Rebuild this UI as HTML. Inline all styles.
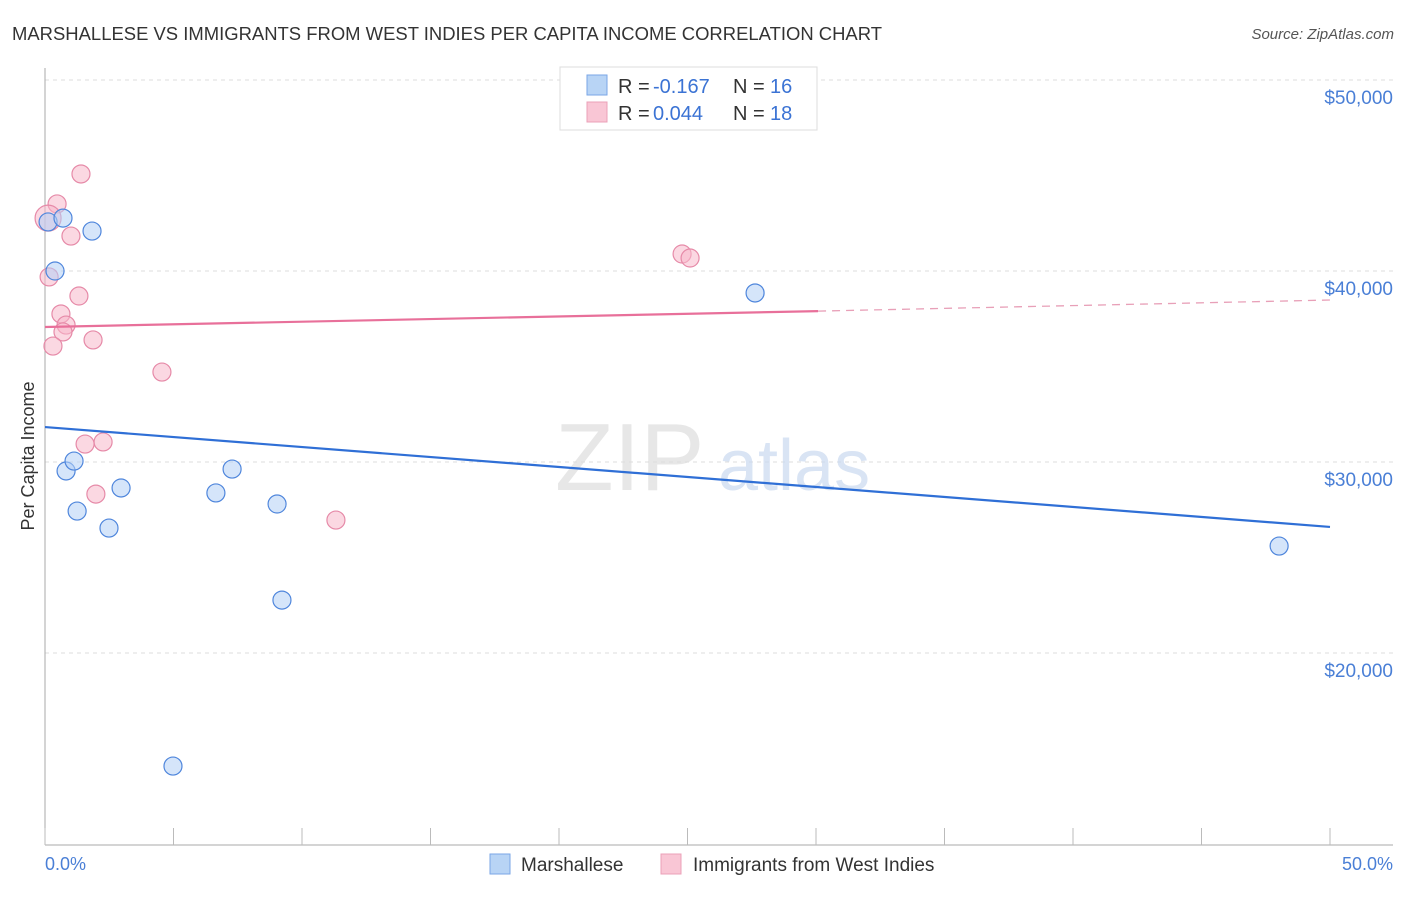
<!DOCTYPE html>
<html><head><meta charset="utf-8"><style>
body{margin:0;background:#fff;font-family:"Liberation Sans",sans-serif;}
svg text{font-family:"Liberation Sans",sans-serif;}
</style></head><body>
<svg id="chart" width="1406" height="892" viewBox="0 0 1406 892" xmlns="http://www.w3.org/2000/svg">
<text x="12" y="40" font-size="18" fill="#333" textLength="870" lengthAdjust="spacingAndGlyphs">MARSHALLESE VS IMMIGRANTS FROM WEST INDIES PER CAPITA INCOME CORRELATION CHART</text>
<text x="1394" y="39" font-size="15" fill="#555" font-style="italic" text-anchor="end">Source: ZipAtlas.com</text>
<g id="grid"></g>
<text x="555" y="490" font-size="96" fill="#ddd" font-family="Liberation Serif" opacity="0.7">ZIP</text>
<text x="718" y="490" font-size="72" fill="#c9d9f0" opacity="0.7">atlas</text>
<g id="axes"></g>
<g id="marks"></g>
<text transform="translate(34,456) rotate(-90)" font-size="18" fill="#333" text-anchor="middle">Per Capita Income</text>
<text x="45" y="870" font-size="18" fill="#4a7fd6">0.0%</text>
<text x="1393" y="870" font-size="18" fill="#4a7fd6" text-anchor="end">50.0%</text>
<g>
<rect x="560" y="67" width="257" height="63" fill="#fff" stroke="#ddd"/>
<rect x="587" y="75" width="20" height="20" fill="#b8d4f5" stroke="#7aa6e6"/>
<rect x="587" y="102" width="20" height="20" fill="#f9c6d5" stroke="#eba0b8"/>
<text x="618" y="93" font-size="20" fill="#333">R =</text>
<text x="653" y="93" font-size="20" fill="#3b73d4">-0.167</text>
<text x="733" y="93" font-size="20" fill="#333">N =</text>
<text x="770" y="93" font-size="20" fill="#3b73d4">16</text>
<text x="618" y="120" font-size="20" fill="#333">R =</text>
<text x="653" y="120" font-size="20" fill="#3b73d4">0.044</text>
<text x="733" y="120" font-size="20" fill="#333">N =</text>
<text x="770" y="120" font-size="20" fill="#3b73d4">18</text>
</g>
<g>
<rect x="490" y="854" width="20" height="20" fill="#b8d4f5" stroke="#7aa6e6"/>
<text x="521" y="871" font-size="19" fill="#333">Marshallese</text>
<rect x="661" y="854" width="20" height="20" fill="#f9c6d5" stroke="#eba0b8"/>
<text x="693" y="871" font-size="19" fill="#333">Immigrants from West Indies</text>
</g>
</svg>
<script>
const yTicks=[50000,40000,30000,20000];
const yTickLabels=["$50,000","$40,000","$30,000","$20,000"];
const xTicks=[0,5,10,15,20,25,30,35,40,45,50];
const blueX=[0.12,0.70,1.83,0.39,27.63,0.82,1.13,1.25,2.49,2.96,6.65,7.28,9.03,9.22,4.98,48.02];
const blueY=[42570,42770,42090,40000,38850,29530,30050,27430,26540,28640,28380,29630,27800,22770,14080,25600];
const pinkX=[1.40,0.47,0.12,1.01,0.16,1.32,0.62,0.82,0.70,0.31,1.87,4.55,1.56,2.26,1.98,11.32,24.79,25.10];
const pinkY=[45080,43510,42770,41830,39690,38690,37750,37170,36810,36070,36390,34710,30940,31050,28320,26960,40890,40680];
const blueTrend=[[0,31830],[50,26600]];
const pinkTrend=[[0,37070],[30.08,37900],[50,38480]];
const NS="http://www.w3.org/2000/svg";
const X=p=>45+p*25.7;
const Y=v=>80+(50000-v)*0.0191;
function mk(t,a,parent){const e=document.createElementNS(NS,t);for(const k in a)e.setAttribute(k,a[k]);parent.appendChild(e);return e;}
const grid=document.getElementById('grid'),axes=document.getElementById('axes'),marks=document.getElementById('marks');
yTicks.forEach((v,i)=>{
 const l=mk('line',{x1:45,x2:1393,y1:Y(v),y2:Y(v),stroke:'#ddd','stroke-dasharray':'4,4'},grid);
 
 
 const t=mk('text',{x:1393,y:Y(v)+24,'font-size':19,fill:'#4a7fd6','text-anchor':'end'},grid);
 t.textContent=yTickLabels[i];
 
 
});
const ax=mk('line',{x1:45,x2:45,y1:68,y2:845,stroke:'#aaa'},axes);


const bx=mk('line',{x1:45,x2:1393,y1:845,y2:845,stroke:'#aaa'},axes);


xTicks.forEach(p=>{
 const t=mk('line',{x1:X(p),x2:X(p),y1:828,y2:845,stroke:'#bbb'},axes);
 
 
});
function pts(xs,ys,fill,stroke,name){
 xs.forEach((x,i)=>{
  const r=(name==='pink-point'&&i===2)?13:9;
  const c=mk('circle',{cx:X(x),cy:Y(ys[i]),r:r,fill:fill,'fill-opacity':0.55,stroke:stroke,'stroke-width':1.2},marks);
  
  
 });
}
pts(pinkX,pinkY,'#f7b8cb','#e68aa8','pink-point');
pts(blueX,blueY,'#b3d0f5','#4f86dc','blue-point');
const bl=mk('line',{x1:X(blueTrend[0][0]),y1:Y(blueTrend[0][1]),x2:X(blueTrend[1][0]),y2:Y(blueTrend[1][1]),stroke:'#2f6fd6','stroke-width':2.2},marks);


const pl=mk('line',{x1:X(pinkTrend[0][0]),y1:Y(pinkTrend[0][1]),x2:X(pinkTrend[1][0]),y2:Y(pinkTrend[1][1]),stroke:'#e8709a','stroke-width':2.2},marks);


const pd=mk('line',{x1:X(pinkTrend[1][0]),y1:Y(pinkTrend[1][1]),x2:X(pinkTrend[2][0]),y2:Y(pinkTrend[2][1]),stroke:'#e8a0b8','stroke-width':1.3,'stroke-dasharray':'8,6'},marks);


</script>
</body></html>
